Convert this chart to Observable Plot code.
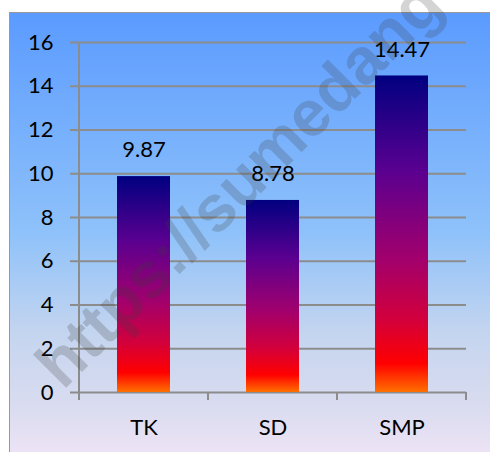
<!DOCTYPE html>
<html>
<head>
<meta charset="utf-8">
<script src="https://cdn.jsdelivr.net/npm/d3@7"></script>
<script src="https://cdn.jsdelivr.net/npm/@observablehq/plot@0.6"></script>
<style>
  html, body { margin: 0; padding: 0; background: #fff; }
  #wrap { position: relative; width: 490px; height: 452px; overflow: hidden; background: #fff; }
  #bg { position: absolute; left: 9px; top: 12px; width: 500px; height: 460px;
        border-left: 1.5px solid #999; border-top: 1.5px solid #999;
        background: linear-gradient(to bottom, #5b9bff 0%, #8fc2fa 48%, #c5d5ef 70%, #dadcf0 86%, #f6e6f8 100%); }
  #chart { position: absolute; left: 0; top: 0; }
  #wm { position: absolute; left: 70px; top: 333px; transform-origin: 0 100%; transform: rotate(-45deg);
        font: bold 65px "Liberation Sans", sans-serif; line-height: 65px; color: rgba(60,60,60,0.22);
        white-space: nowrap; pointer-events: none; }
</style>
</head>
<body>
<div id="wrap">
  <div id="bg"></div>
  <div id="chart"></div>
  <div id="wm">https://sumedang</div>
</div>
<script>
const categories = ["TK", "SD", "SMP"];
const values = [9.87, 8.78, 14.47];
const yTicks = [0, 2, 4, 6, 8, 10, 12, 14, 16];

const data = categories.map((c, i) => ({cat: c, value: values[i]}));
const grey = "#8c8c8c";

const gradientDefs = () => {
  const defs = d3.create("svg:defs");
  const g = defs.append("linearGradient").attr("id", "barGrad")
    .attr("x1", 0).attr("y1", 0).attr("x2", 0).attr("y2", 1);
  [[0, "#000080"], [0.3, "#5a0090"], [0.58, "#a2006c"], [0.77, "#d2003c"], [0.91, "#ff0000"], [1, "#ff7000"]]
    .forEach(([o, c]) => g.append("stop").attr("offset", o).attr("stop-color", c));
  return defs.node();
};

const axisLines = (index, scales, values, dims) => {
  const x = scales.x, y = scales.y;
  const bw = x.bandwidth();
  const g = d3.create("svg:g").attr("stroke", grey).attr("stroke-width", 2).attr("fill", "none");
  const base = y(0);
  const left = x(categories[0]);
  g.append("line").attr("x1", left).attr("x2", left).attr("y1", y(16)).attr("y2", base + 8);
  categories.forEach(c => {
    const xr = x(c) + bw;
    g.append("line").attr("x1", xr).attr("x2", xr).attr("y1", base).attr("y2", base + 8);
  });
  return g.node();
};

const plot = Plot.plot({
  width: 490,
  height: 452,
  marginLeft: 79,
  marginRight: 24,
  marginTop: 42,
  marginBottom: 60,
  style: {background: "transparent", fontFamily: "Lato, sans-serif", fontSize: "22px", color: "#000", overflow: "visible"},
  x: {domain: categories, padding: 0, label: null},
  y: {domain: [0, 16], label: null},
  marks: [
    gradientDefs,
    Plot.ruleY(yTicks, {stroke: grey, strokeWidth: 2, strokeOpacity: 1, insetLeft: -9}),
    Plot.barY(data, {x: "cat", y: "value", fill: "url(#barGrad)", insetLeft: 38, insetRight: 38}),
    axisLines,
    Plot.axisY({ticks: yTicks, tickSize: 0, tickPadding: 26, fontSize: 22, fill: "#000", label: null}),
    Plot.axisX({tickSize: 0, tickPadding: 27, fontSize: 22, fill: "#000", label: null}),
    Plot.text(data, {x: "cat", y: "value", text: d => d.value.toFixed(2), dy: -26.5, fontSize: 22, fill: "#000"})
  ]
});
document.getElementById("chart").appendChild(plot);
</script>
</body>
</html>
